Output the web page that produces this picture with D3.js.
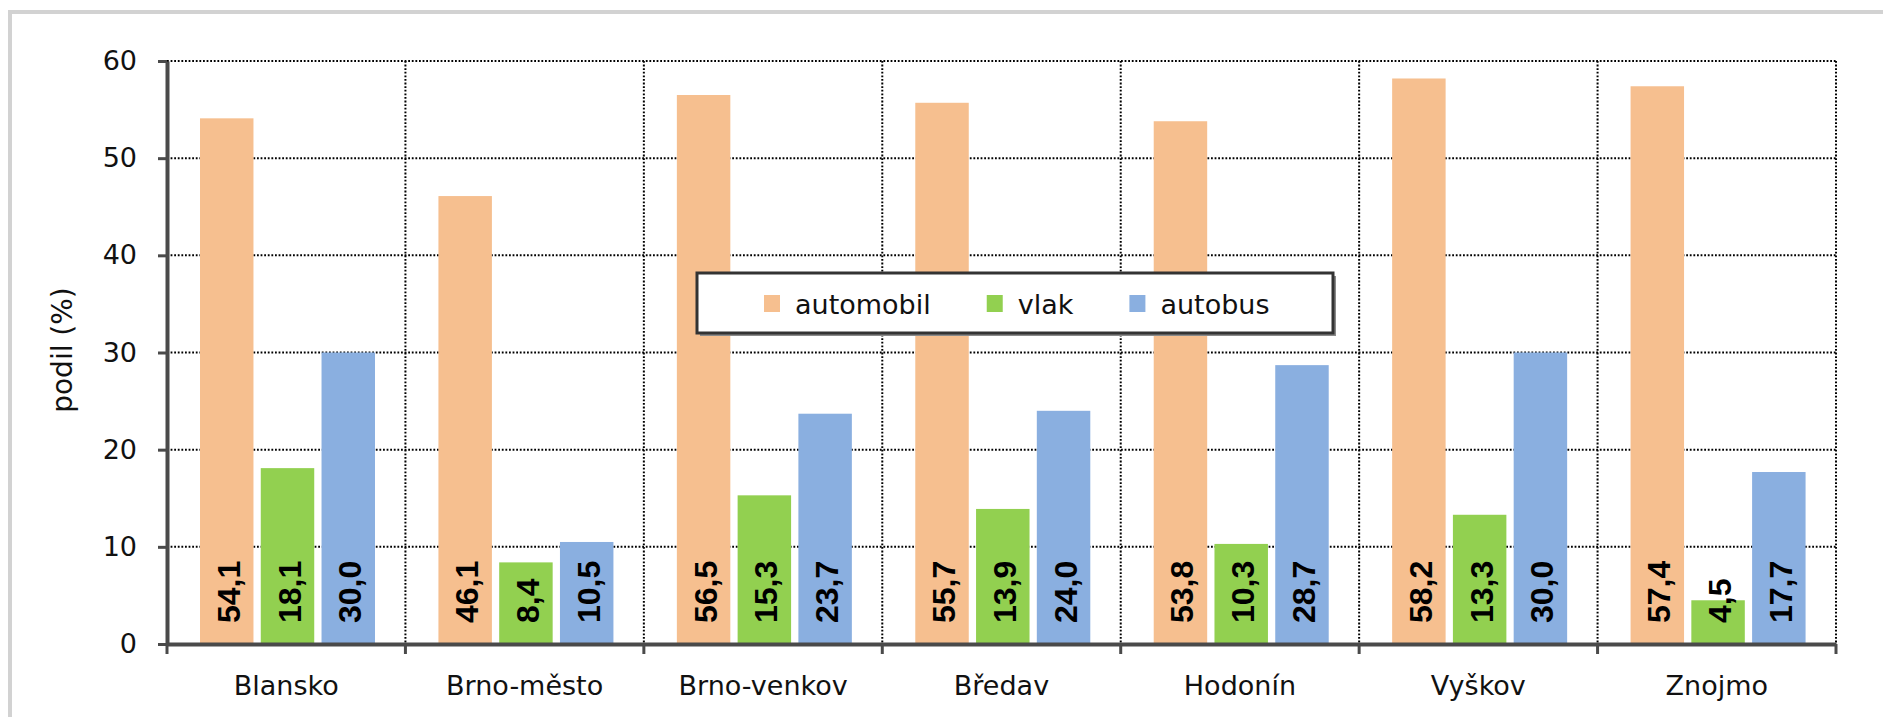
<!DOCTYPE html>
<html>
<head>
<meta charset="utf-8">
<script src="https://cdn.jsdelivr.net/npm/d3@7/dist/d3.min.js"></script>
<style>
body{margin:0;background:#fff;}
svg{display:block;}
</style>
</head>
<body>
<script>
// data
var DISTRICTS = ["Blansko","Brno-město","Brno-venkov","Bředav","Hodonín","Vyškov","Znojmo"];
var AUTOMOBIL = [54.1,46.1,56.5,55.7,53.8,58.2,57.4];
var VLAK = [18.1,8.4,15.3,13.9,10.3,13.3,4.5];
var AUTOBUS = [30.0,10.5,23.7,24.0,28.7,30.0,17.7];
var SERIES_NAMES = ["automobil","vlak","autobus"];
var SERIES_COLORS = ["#F6BF8F","#92D050","#8AAFE0"];
var Y_TICKS = [0,10,20,30,40,50,60];

var w=1883, h=717;
var LEFT=167, RIGHT=1836, TOP=61, BOTTOM=644;
var TEXTFONT='"DejaVu Sans", Verdana, sans-serif';
var DOTS='1.8,1.8';

var SERIES = [AUTOMOBIL,VLAK,AUTOBUS];

SVG = d3.select('body').append('svg').attr('width',w).attr('height',h);
SVG.append('rect').attr('width',w).attr('height',h).attr('fill','#fff');
// outer frame of the chart area
SVG.append('rect').attr('x',10).attr('y',12).attr('width',w+20).attr('height',h+20)
   .attr('fill','none').attr('stroke','#d2d2d2').attr('stroke-width',4);

var x = d3.scaleBand().domain(DISTRICTS).range([LEFT,RIGHT]);
var xin = d3.scaleBand().domain(SERIES_NAMES).range([33,208]).paddingInner(0.12);
var y = d3.scaleLinear().domain([0,60]).range([BOTTOM,TOP]);

GRID = SVG.append('g').attr('class','grid');
// horizontal dotted lines
GRID.selectAll('.hg').data(Y_TICKS.filter(function(d){return d>0;})).enter().append('line')
    .attr('x1',LEFT).attr('x2',RIGHT)
    .attr('y1',function(d){return y(d);}).attr('y2',function(d){return y(d);})
    .attr('stroke','#000').attr('stroke-width',2).attr('stroke-dasharray',DOTS);
// vertical dotted lines on category borders
var borders = DISTRICTS.map(function(d){return x(d)+x.bandwidth();});
GRID.selectAll('.vg').data(borders).enter().append('line')
    .attr('x1',function(d){return d;}).attr('x2',function(d){return d;})
    .attr('y1',TOP).attr('y2',BOTTOM)
    .attr('stroke','#000').attr('stroke-width',2).attr('stroke-dasharray',DOTS);

// bars
var rows = [];
DISTRICTS.forEach(function(c,i){
  SERIES_NAMES.forEach(function(s,j){
    rows.push({cat:c, ser:s, val:SERIES[j][i], col:SERIES_COLORS[j]});
  });
});

BARS = SVG.append('g').attr('class','bars');
BARS.selectAll('rect').data(rows).enter().append('rect')
    .attr('x',function(d){return x(d.cat)+xin(d.ser);})
    .attr('width',xin.bandwidth())
    .attr('y',function(d){return y(d.val);})
    .attr('height',function(d){return y(0)-y(d.val);})
    .attr('fill',function(d){return d.col;});

// value labels, rotated
BARS.selectAll('text').data(rows).enter().append('text')
    .attr('transform',function(d){
      var cx = x(d.cat)+xin(d.ser)+xin.bandwidth()/2+2;
      return 'translate('+cx+','+(BOTTOM-21)+') rotate(-90)';
    })
    .attr('dominant-baseline','central')
    .style('font-family','"Liberation Sans", Arial, sans-serif')
    .style('font-weight','bold').style('font-size','32px').attr('fill','#000')
    .text(function(d){return d3.format('.1f')(d.val).replace('.',',');});

// y axis
var yAxis = d3.axisLeft(y).tickValues(Y_TICKS).tickSize(9).tickSizeOuter(0).tickPadding(21);
YAX = SVG.append('g').attr('transform','translate('+LEFT+',0)').call(yAxis);
YAX.select('.domain').attr('stroke','#4a4a4a').attr('stroke-width',4);
YAX.selectAll('.tick line').attr('stroke','#4a4a4a').attr('stroke-width',3);
YAX.selectAll('.tick text').style('font-family',TEXTFONT).style('font-size','27px').attr('fill','#111');

// x axis
var xAxis = d3.axisBottom(x).tickSize(0).tickSizeOuter(0).tickPadding(32);
XAX = SVG.append('g').attr('transform','translate(0,'+BOTTOM+')').call(xAxis);
XAX.select('.domain').attr('stroke','#4a4a4a').attr('stroke-width',4);
XAX.selectAll('.tick text').style('font-family',TEXTFONT).style('font-size','27px').attr('fill','#111');
XAX.selectAll('.border').data([LEFT].concat(borders)).enter().append('line')
   .attr('x1',function(d){return d;}).attr('x2',function(d){return d;})
   .attr('y1',0).attr('y2',10).attr('stroke','#4a4a4a').attr('stroke-width',3);

// y title
SVG.append('text').attr('transform','translate(62,350) rotate(-90)')
   .attr('text-anchor','middle').attr('dominant-baseline','central')
   .style('font-family',TEXTFONT).style('font-size','28px').attr('fill','#111')
   .text('podil (%)');

// legend
LEGEND = SVG.append('g').attr('class','legend');
LEGEND.append('rect').attr('x',700).attr('y',276).attr('width',636).attr('height',60).attr('fill','#8a8a8a');
LEGEND.append('rect').attr('x',697).attr('y',273).attr('width',636).attr('height',60)
      .attr('fill','#fff').attr('stroke','#333').attr('stroke-width',3);
var lx = 764;
SERIES_NAMES.forEach(function(s,j){
  LEGEND.append('rect').attr('x',lx).attr('y',295).attr('width',16).attr('height',17).attr('fill',SERIES_COLORS[j]);
  var t = LEGEND.append('text').attr('x',lx+31).attr('y',304).attr('dominant-baseline','central')
      .style('font-family',TEXTFONT).style('font-size','27px').attr('fill','#111').text(s);
  lx = lx+31+t.node().getComputedTextLength()+56;
});
</script>
</body>
</html>
